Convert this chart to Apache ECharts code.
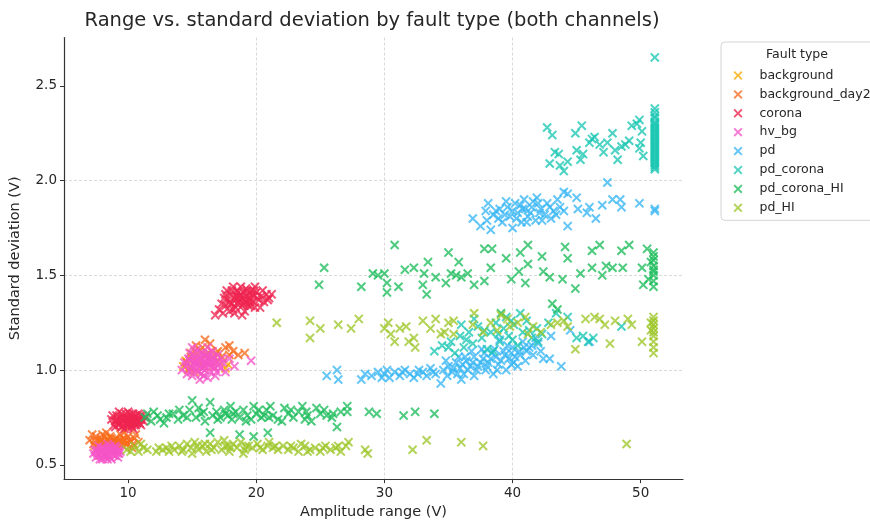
<!DOCTYPE html>
<html>
<head>
<meta charset="utf-8">
<title>Range vs. standard deviation by fault type</title>
<script src="https://cdn.jsdelivr.net/npm/echarts@6/dist/echarts.min.js"></script>
<style>
  html, body { margin: 0; padding: 0; background: #ffffff; }
  #chart { width: 870px; height: 525px; }
</style>
</head>
<body>
<div id="chart"></div>
<script>
// Fault types, in plotting / legend order
const faultTypes = ['background', 'background_day2', 'corona', 'hv_bg', 'pd', 'pd_corona', 'pd_corona_HI', 'pd_HI'];

// Axis tick labels
const xTicks = [10, 20, 30, 40, 50];
const yTicks = [0.5, 1.0, 1.5, 2.0, 2.5];

// [amplitude range (V), standard deviation (V)] per recording window
const background = [
  [7.4,0.60],[7.8,0.62],[8.1,0.59],[8.5,0.61],[8.9,0.63],[9.2,0.60],[7.6,0.58],[8.3,0.64],
  [9.5,0.62],[8.0,0.61],[8.7,0.58],[9.0,0.62],[7.9,0.63],[8.6,0.60],[9.8,0.61],
  [14.3,1.02],[14.7,1.00],[15.0,1.05],[15.4,1.07],[15.8,1.03],[16.2,1.06],[14.9,1.09],[15.6,1.10],
  [16.6,1.02],[17.1,1.05],[17.6,1.01],[15.2,0.99],[16.0,1.08],[16.9,1.09],[14.5,1.05],[17.8,1.03]
];
const backgroundDay2 = [
  [7.0,0.63],[7.3,0.61],[7.5,0.65],[7.8,0.62],[8.0,0.66],[8.2,0.60],[8.4,0.63],[8.6,0.65],
  [8.8,0.61],[9.0,0.64],[9.2,0.62],[9.4,0.66],[9.6,0.60],[9.8,0.63],[10.0,0.65],[10.2,0.62],
  [10.5,0.64],[10.8,0.62],[7.7,0.59],[8.3,0.67],[9.1,0.58],[9.7,0.67],[10.3,0.59],[7.2,0.66],
  [8.9,0.62],[9.5,0.63],[8.5,0.60],[9.9,0.61],[7.4,0.63],[7.9,0.64],[8.1,0.62],[8.6,0.62],
  [8.7,0.64],[9.3,0.63],[9.6,0.64],[10.1,0.63],[10.4,0.61],[10.6,0.66],[9.0,0.61],[8.2,0.65],
  [14.6,1.04],[14.9,1.07],[15.2,1.10],[15.5,1.05],[15.8,1.12],[16.1,1.08],[16.4,1.14],[16.7,1.06],
  [17.0,1.10],[17.3,1.07],[17.6,1.12],[17.9,1.08],[18.2,1.10],[15.3,1.13],[16.0,1.16],[16.5,1.10],
  [17.9,1.13],[18.6,1.08],[19.1,1.09],[14.8,1.01],[15.9,1.02]
];
const corona = [
  [8.7,0.74],[8.9,0.71],[9.1,0.76],[9.2,0.72],[9.4,0.75],[9.5,0.70],[9.6,0.73],[9.8,0.77],
  [9.9,0.71],[10.0,0.74],[10.1,0.72],[10.2,0.76],[10.3,0.70],[10.4,0.73],[10.5,0.75],[10.6,0.71],
  [10.7,0.74],[10.8,0.77],[10.9,0.72],[11.0,0.74],[11.2,0.73],[11.4,0.75],[9.3,0.78],[9.7,0.69],
  [10.0,0.78],[10.4,0.69],[10.9,0.76],[9.0,0.73],[9.6,0.75],[10.3,0.75],
  [8.8,0.76],[9.0,0.70],[9.2,0.74],[9.4,0.72],[9.5,0.77],[9.7,0.74],[9.8,0.72],[9.9,0.75],
  [10.1,0.77],[10.2,0.73],[10.3,0.71],[10.5,0.72],[10.6,0.76],[10.7,0.72],[10.8,0.74],[11.0,0.71],
  [11.1,0.76],[9.3,0.71],[9.6,0.71],[10.0,0.72],[10.0,0.70],[10.6,0.73],[9.1,0.74],[10.4,0.77],
  [9.8,0.74],
  [16.8,1.29],[17.1,1.32],[17.4,1.30],[17.6,1.34],[17.8,1.37],[17.9,1.31],[18.0,1.40],[18.1,1.35],
  [18.3,1.38],[18.4,1.33],[18.5,1.42],[18.6,1.36],[18.7,1.39],[18.8,1.44],[18.9,1.34],[19.0,1.41],
  [19.1,1.37],[19.2,1.43],[19.3,1.35],[19.4,1.40],[19.5,1.38],[19.6,1.42],[19.7,1.36],[19.8,1.39],
  [19.9,1.33],[20.0,1.41],[20.2,1.37],[20.4,1.39],[20.6,1.36],[20.8,1.40],[21.0,1.38],[17.7,1.42],
  [18.2,1.44],[19.1,1.31],[19.9,1.44],[18.0,1.35],[18.6,1.41],[19.4,1.34],[20.3,1.33],[17.5,1.38],
  [17.3,1.35],[17.6,1.40],[17.9,1.36],[18.1,1.42],[18.2,1.32],[18.4,1.39],[18.5,1.35],[18.7,1.37],
  [18.8,1.40],[18.9,1.38],[19.0,1.35],[19.2,1.39],[19.3,1.42],[19.5,1.36],[19.6,1.34],[19.8,1.42],
  [20.1,1.38],[20.5,1.42],[20.9,1.37],[21.2,1.40],[18.3,1.30],[18.9,1.29],[19.7,1.40],[18.6,1.38],
  [19.2,1.36]
];
const hvBg = [
  [7.3,0.56],[7.5,0.54],[7.6,0.58],[7.8,0.55],[7.9,0.57],[8.0,0.53],[8.1,0.59],[8.2,0.56],
  [8.3,0.54],[8.4,0.58],[8.5,0.55],[8.6,0.57],[8.7,0.53],[8.8,0.56],[8.9,0.59],[9.0,0.55],
  [9.1,0.57],[9.2,0.54],[9.3,0.56],[7.7,0.60],[8.4,0.61],[9.0,0.60],[7.4,0.58],[8.1,0.55],
  [8.6,0.54],[8.0,0.57],[8.8,0.58],[9.4,0.57],[7.5,0.57],[7.7,0.55],[7.9,0.59],[8.2,0.58],
  [8.3,0.56],[8.5,0.59],[8.7,0.57],[8.9,0.55],[9.1,0.59],[9.2,0.56],[8.0,0.55],[8.4,0.53],
  [7.8,0.53],[8.6,0.60],[9.3,0.58],[7.6,0.56],
  [14.2,1.00],[14.4,1.04],[14.6,0.98],[14.7,1.06],[14.9,1.02],[15.0,0.97],[15.1,1.08],[15.2,1.04],
  [15.3,1.00],[15.4,1.11],[15.5,1.06],[15.6,1.02],[15.7,0.98],[15.8,1.09],[15.9,1.04],[16.0,1.00],
  [16.1,1.07],[16.2,1.12],[16.3,1.03],[16.4,0.99],[16.5,1.06],[16.6,1.10],[16.7,1.02],[16.8,0.97],
  [16.9,1.05],[17.0,1.08],[17.2,1.01],[17.4,1.04],[17.6,0.99],[15.0,1.12],[15.6,0.95],[16.2,0.96],
  [14.8,1.09],[15.3,1.05],[16.0,1.04],[15.8,1.01],[16.4,1.05],[19.6,1.05],[17.9,1.06],[18.3,1.02],
  [14.5,1.02],[14.8,1.05],[15.0,1.01],[15.2,1.07],[15.4,1.03],[15.5,0.99],[15.7,1.06],[15.9,1.08],
  [16.0,1.02],[16.1,1.04],[16.3,1.07],[16.5,1.02],[16.6,1.04],[16.8,1.01],[17.1,1.03],[15.6,1.09],
  [15.3,1.02],[16.7,1.07],[15.1,1.04],[16.3,1.09],[15.9,0.97],[14.9,0.99],[16.9,0.99],[17.3,1.06]
];
const pd = [
  [25.5,0.97],[26.3,1.00],[26.4,0.95],[28.2,0.95],[28.5,0.98],[29.0,0.97],[29.5,0.99],[30.0,0.98],
  [30.4,0.96],[30.8,0.99],[31.2,0.97],[31.6,1.00],[32.0,0.98],[32.3,0.96],[32.7,1.00],[33.0,0.99],
  [33.3,0.97],[33.6,1.01],[34.0,0.98],[34.4,0.93],[34.6,1.00],[35.0,1.02],[35.3,0.99],[35.6,1.04],
  [35.9,1.01],[36.2,0.98],[36.4,1.05],[36.7,1.02],[37.0,1.07],[37.2,1.00],[37.5,1.04],[37.8,1.09],
  [38.0,1.02],[38.3,1.06],[38.6,1.11],[38.8,1.00],[39.1,1.05],[39.4,1.08],[39.6,1.13],[39.9,1.03],
  [40.2,1.07],[40.5,1.10],[40.8,1.15],[41.0,1.05],[41.3,1.12],[41.6,1.08],[42.0,1.14],[42.4,1.06],
  [42.9,1.06],[43.8,1.02],[36.0,0.95],[37.0,0.97],[38.5,0.98],[39.5,1.00],[40.0,1.12],[35.8,1.07],
  [34.8,1.05],[41.8,1.17],[43.0,1.18],[44.5,1.21],[46.0,1.15],[40.4,1.02],[39.0,1.16],[36.8,1.10],
  [34.9,0.97],[35.4,1.01],[35.7,0.98],[36.1,1.03],[36.5,1.00],[36.9,1.04],[37.3,1.02],[37.7,1.06],
  [38.1,1.04],[38.4,1.09],[38.9,1.03],[39.3,1.10],[39.7,1.06],[40.1,1.04],[40.6,1.08],[41.1,1.10],
  [41.5,1.13],[42.2,1.10],[37.9,1.00],[38.7,1.07],[39.9,1.09],[40.9,1.12],[36.3,1.07],[37.6,1.11],
  [30.2,1.00],[31.4,0.99],[32.6,0.98],[33.8,0.99],[29.8,0.96],
  [36.9,1.80],[37.5,1.76],[38.1,1.88],[38.3,1.74],[38.9,1.80],[39.6,1.86],[40.0,1.75],[40.4,1.83],
  [40.9,1.90],[41.2,1.81],[41.9,1.91],[42.2,1.85],[42.9,1.86],[43.5,1.90],[44.0,1.94],[44.3,1.93],
  [44.3,1.76],[45.0,1.91],[45.1,1.85],[45.8,1.83],[46.0,1.86],[47.0,1.87],[47.4,1.99],[47.8,1.90],
  [48.4,1.90],[48.5,1.86],[49.9,1.88],[51.1,1.85],[51.1,1.84],
  [38.5,1.82],[39.2,1.78],[39.8,1.81],[40.2,1.88],[40.7,1.78],[41.5,1.86],[41.8,1.79],[42.5,1.82],
  [43.0,1.80],[39.0,1.85],[40.0,1.84],[41.0,1.85],[42.0,1.88],[43.2,1.84],[38.0,1.79],[44.0,1.84],
  [43.7,1.86],[46.5,1.80],[38.7,1.84],[39.4,1.82],[40.3,1.80],[40.8,1.85],[41.4,1.83],[41.6,1.89],
  [42.3,1.79],[42.7,1.88],[39.5,1.89],[40.6,1.87],[41.1,1.78],[43.4,1.82],[37.9,1.84],[42.1,1.83]
];
const pdCorona = [
  [33.9,1.10],[34.5,1.13],[35.2,1.15],[35.5,1.09],[35.9,1.18],[36.2,1.12],[36.6,1.20],[36.9,1.14],
  [37.3,1.23],[37.6,1.17],[38.0,1.11],[38.3,1.20],[38.7,1.25],[39.0,1.15],[39.3,1.22],[39.7,1.18],
  [40.1,1.24],[40.4,1.13],[40.8,1.20],[41.1,1.26],[41.5,1.17],[41.9,1.22],[42.3,1.19],[42.8,1.25],
  [43.4,1.30],[44.3,1.28],[45.0,1.17],[45.5,1.18],[45.9,1.15],[46.3,1.17],[48.5,1.23],[37.0,1.27],
  [39.5,1.28],[40.6,1.30],[38.5,1.10],[36.0,1.24],[37.8,1.21],[38.9,1.19],[40.0,1.16],[41.3,1.21],
  [36.4,1.16],[39.9,1.26],[42.0,1.15],[35.0,1.12],
  [42.7,2.28],[43.1,2.24],[43.3,2.15],[42.9,2.09],[43.7,2.08],[44.0,2.05],[44.3,2.10],[44.9,2.25],
  [45.4,2.29],[45.0,2.16],[45.5,2.14],[45.3,2.11],[46.2,2.22],[46.4,2.23],[46.8,2.19],[47.1,2.15],
  [47.8,2.25],[48.0,2.16],[48.2,2.11],[48.8,2.19],[49.3,2.29],[49.7,2.30],[49.9,2.32],[50.1,2.26],
  [49.9,2.17],[50.2,2.13],[50.0,2.20],[43.6,2.14],[46.0,2.20],[47.4,2.20],[48.5,2.18],[49.1,2.21],
  [51.1,2.06],[51.1,2.07],[51.1,2.08],[51.1,2.09],[51.1,2.10],[51.1,2.11],[51.1,2.12],[51.1,2.13],
  [51.1,2.14],[51.1,2.15],[51.1,2.16],[51.1,2.17],[51.1,2.18],[51.1,2.19],[51.1,2.20],[51.1,2.21],
  [51.1,2.22],[51.1,2.23],[51.1,2.24],[51.1,2.25],[51.1,2.26],[51.1,2.27],[51.1,2.28],[51.1,2.29],
  [51.1,2.30],[51.1,2.31],[51.1,2.33],[51.1,2.34],[51.1,2.36],[51.1,2.38],[51.1,2.65]
];
const pdCoronaHI = [
  [11.3,0.75],[11.8,0.73],[12.3,0.76],[12.0,0.78],[13.5,0.77],[13.9,0.74],[14.3,0.76],[14.8,0.79],
  [15.0,0.84],[15.3,0.75],[15.7,0.77],[16.0,0.73],[16.4,0.83],[16.6,0.76],[16.9,0.78],[17.2,0.75],
  [17.5,0.79],[17.8,0.76],[18.1,0.74],[18.4,0.78],[18.7,0.75],[19.0,0.79],[19.3,0.76],[19.8,0.81],
  [19.6,0.74],[20.0,0.77],[20.4,0.75],[20.8,0.79],[21.1,0.81],[21.3,0.76],[21.7,0.74],[22.2,0.80],
  [22.5,0.77],[22.9,0.75],[23.3,0.78],[23.6,0.81],[24.0,0.76],[24.3,0.73],[24.7,0.80],[25.0,0.77],
  [25.5,0.76],[25.9,0.75],[26.3,0.70],[26.6,0.78],[27.1,0.78],[27.1,0.81],[12.8,0.72],[14.0,0.79],
  [16.4,0.67],[18.7,0.66],[19.8,0.65],[20.9,0.67],[28.8,0.78],[29.4,0.77],[31.5,0.76],[32.4,0.78],
  [33.9,0.77],[13.0,0.75],[15.5,0.80],[18.0,0.81],[22.0,0.73],[23.8,0.74],
  [12.5,0.74],[13.2,0.77],[14.6,0.75],[15.9,0.78],[17.0,0.74],[18.2,0.77],[19.2,0.73],[20.2,0.79],
  [21.0,0.75],[22.7,0.79],[23.9,0.78],[25.3,0.79],[26.0,0.77],[11.5,0.77],[17.6,0.77],[20.6,0.76],
  [30.8,1.66],[25.3,1.54],[24.9,1.45],[28.2,1.44],[29.1,1.51],[29.5,1.50],[30.0,1.51],[30.2,1.46],
  [30.2,1.41],[31.1,1.44],[31.6,1.53],[32.3,1.54],[33.0,1.45],[33.1,1.51],[33.3,1.40],[33.4,1.57],
  [34.0,1.49],[35.0,1.62],[34.8,1.46],[35.2,1.51],[35.6,1.50],[35.8,1.57],[36.0,1.49],[36.5,1.51],
  [37.0,1.45],[37.8,1.64],[38.4,1.64],[37.8,1.47],[38.3,1.54],[39.5,1.59],[39.9,1.48],[40.5,1.52],
  [40.6,1.62],[41.2,1.66],[41.0,1.46],[41.2,1.56],[42.3,1.60],[42.4,1.52],[42.9,1.49],[43.9,1.48],
  [44.1,1.65],[44.3,1.59],[44.9,1.43],[45.3,1.51],[46.2,1.54],[46.2,1.63],[46.8,1.66],[47.0,1.50],
  [47.3,1.55],[47.8,1.54],[48.5,1.63],[49.1,1.66],[48.6,1.54],[50.1,1.54],[50.5,1.64],[50.2,1.45],
  [51.0,1.62],[51.0,1.58],[51.0,1.55],[51.0,1.52],[51.0,1.50],[51.0,1.47],[51.0,1.44],[51.0,1.60],
  [51.0,1.53],[50.6,1.48],[50.8,1.57],[43.1,1.35],[43.5,1.32],[39.1,1.30]
];
const pdHI = [
  [9.9,0.58],[10.5,0.60],[10.8,0.57],[11.0,0.61],[11.5,0.58],[12.2,0.57],[12.7,0.58],[13.2,0.57],
  [13.6,0.58],[14.0,0.60],[14.3,0.58],[14.6,0.61],[14.9,0.59],[15.2,0.62],[15.5,0.58],[15.8,0.60],
  [16.1,0.57],[16.4,0.61],[16.7,0.59],[17.0,0.62],[17.3,0.58],[17.6,0.60],[17.9,0.57],[18.2,0.61],
  [18.5,0.59],[18.8,0.62],[19.1,0.58],[19.4,0.60],[19.7,0.59],[20.1,0.61],[20.5,0.58],[20.9,0.60],
  [21.3,0.59],[21.7,0.58],[22.1,0.60],[22.5,0.58],[22.9,0.59],[23.3,0.57],[23.8,0.60],[24.2,0.58],
  [24.6,0.59],[25.0,0.57],[25.4,0.60],[25.8,0.58],[26.2,0.59],[26.6,0.57],[27.0,0.60],[27.2,0.62],
  [28.5,0.58],[28.7,0.56],[32.2,0.58],[33.3,0.63],[36.0,0.62],[37.7,0.60],[48.9,0.61],[13.0,0.59],
  [15.0,0.56],[17.5,0.63],[19.0,0.56],[21.0,0.62],[23.5,0.61],[16.0,0.61],[18.0,0.59],
  [12.4,0.59],[13.4,0.60],[14.2,0.57],[15.4,0.60],[16.5,0.58],[17.8,0.60],[19.2,0.60],[20.3,0.59],
  [21.5,0.60],[22.7,0.60],[24.0,0.57],[25.2,0.59],[26.4,0.60],[10.2,0.57],[11.2,0.59],
  [21.6,1.25],[24.2,1.26],[24.2,1.17],[25.0,1.22],[26.4,1.24],[27.4,1.22],[28.0,1.27],[30.0,1.22],
  [30.3,1.25],[30.5,1.19],[30.8,1.15],[31.2,1.22],[31.7,1.23],[31.9,1.15],[32.3,1.17],[32.4,1.12],
  [33.0,1.26],[33.6,1.22],[34.0,1.27],[34.4,1.19],[35.0,1.25],[35.4,1.19],[34.7,1.20],[35.4,1.26],
  [37.0,1.30],[36.9,1.24],[37.7,1.20],[38.3,1.25],[38.8,1.21],[39.1,1.29],[39.6,1.27],[39.8,1.23],
  [40.4,1.25],[41.0,1.28],[41.2,1.19],[41.6,1.23],[42.2,1.20],[43.0,1.24],[43.5,1.25],[44.0,1.26],
  [44.3,1.23],[44.9,1.11],[45.7,1.27],[46.4,1.28],[46.8,1.27],[47.2,1.24],[47.6,1.14],[48.0,1.26],
  [49.0,1.27],[49.3,1.24],[50.1,1.15],
  [51.0,1.28],[51.0,1.26],[51.0,1.24],[51.0,1.22],[51.0,1.20],[51.0,1.18],[51.0,1.15],[51.0,1.12],
  [51.0,1.09],[50.8,1.25],[50.8,1.21]
];

const seriesData = [background, backgroundDay2, corona, hvBg, pd, pdCorona, pdCoronaHI, pdHI];
const seriesColors = ['#f7a800', '#f86a1c', '#ee2450', '#f554c6', '#38b6f4', '#19c6b2', '#1dbd5c', '#9dc62a'];

// "x" marker drawn as a filled cross outline
const crossMarker = 'path://M0,1.5L1.5,0L5,3.5L8.5,0L10,1.5L6.5,5L10,8.5L8.5,10L5,6.5L1.5,10L0,8.5L3.5,5Z';

const FONT = 'DejaVu Sans';
const TEXT = '#262626';

const chart = echarts.init(document.getElementById('chart'), null, { renderer: 'canvas' });

chart.setOption({
  animation: false,
  backgroundColor: '#ffffff',
  textStyle: { fontFamily: FONT },
  title: [
    {
      text: 'Range vs. standard deviation by fault type (both channels)',
      left: 372, top: 11, padding: 0, textAlign: 'center',
      textStyle: { fontFamily: FONT, fontSize: 19.5, fontWeight: 'normal', color: TEXT }
    },
    {
      text: 'Fault type',
      left: 797, top: 48, padding: 0, textAlign: 'center', z: 10,
      textStyle: { fontFamily: FONT, fontSize: 12.5, fontWeight: 'normal', color: TEXT }
    }
  ],
  legend: {
    orient: 'vertical',
    left: 721, top: 42,
    padding: [27, 20, 6, 12.5],
    itemWidth: 9, itemHeight: 9,
    itemGap: 5.9,
    backgroundColor: '#ffffff',
    borderColor: '#d4d4d4', borderWidth: 1, borderRadius: 4,
    textStyle: { fontFamily: FONT, fontSize: 12.5, color: TEXT, lineHeight: 13, padding: [0, 0, 0, 12] },
    data: faultTypes
  },
  grid: { left: 61, right: 187, top: 37.5, bottom: 39, containLabel: false },
  xAxis: {
    type: 'value',
    min: 5.0, max: 53.3,
    name: 'Amplitude range (V)',
    nameLocation: 'middle', nameGap: 22,
    nameTextStyle: { fontFamily: FONT, fontSize: 14.5, color: TEXT },
    axisLine: { show: true, onZero: false, lineStyle: { color: '#333', width: 1.2 } },
    axisTick: { show: true, length: 4, lineStyle: { color: '#333' }, customValues: xTicks },
    axisLabel: { margin: 7, fontFamily: FONT, fontSize: 13.5, color: TEXT, customValues: xTicks },
    splitLine: { show: true, showMinLine: false, showMaxLine: false, lineStyle: { color: '#cfcfcf', type: [3, 2], width: 0.8 } }
  },
  yAxis: {
    type: 'value',
    min: 0.425, max: 2.755,
    name: 'Standard deviation (V)',
    nameLocation: 'middle', nameGap: 41, nameRotate: 90,
    nameTextStyle: { fontFamily: FONT, fontSize: 14.5, color: TEXT },
    axisLine: { show: true, onZero: false, lineStyle: { color: '#333', width: 1.2 } },
    axisTick: { show: true, length: 4, lineStyle: { color: '#333' }, customValues: yTicks },
    axisLabel: { margin: 7, fontFamily: FONT, fontSize: 13.5, color: TEXT, customValues: yTicks,
      formatter: v => v.toFixed(1) },
    splitLine: { show: true, showMinLine: false, showMaxLine: false, lineStyle: { color: '#cfcfcf', type: [3, 2], width: 0.8 } }
  },
  series: faultTypes.map((name, i) => ({
    name,
    type: 'scatter',
    data: seriesData[i],
    symbol: crossMarker,
    symbolSize: 9.5,
    itemStyle: { color: seriesColors[i], opacity: 0.78 },
    emphasis: { disabled: true }
  }))
});
</script>
</body>
</html>
